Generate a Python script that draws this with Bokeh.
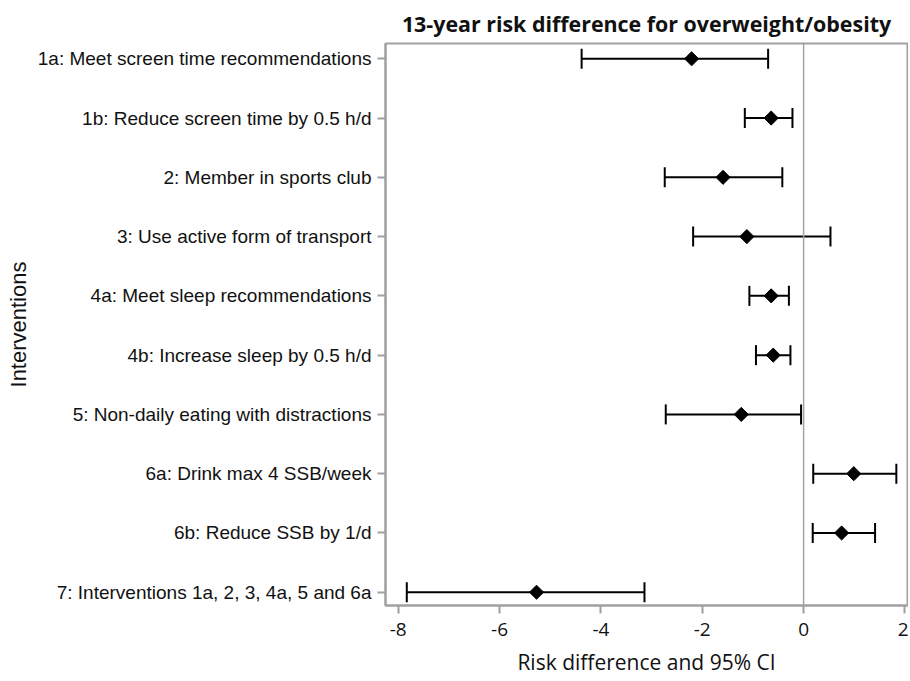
from bokeh.plotting import figure
from bokeh.models import Range1d, FixedTicker, ColumnDataSource, Whisker, TeeHead, Span
from bokeh.embed import file_html
from bokeh.resources import INLINE
import math

categories = [
    "1a: Meet screen time recommendations",
    "1b: Reduce screen time by 0.5 h/d",
    "2: Member in sports club",
    "3: Use active form of transport",
    "4a: Meet sleep recommendations",
    "4b: Increase sleep by 0.5 h/d",
    "5: Non-daily eating with distractions",
    "6a: Drink max 4 SSB/week",
    "6b: Reduce SSB by 1/d",
    "7: Interventions 1a, 2, 3, 4a, 5 and 6a",
]
estimate = [-2.21, -0.64, -1.59, -1.12, -0.64, -0.60, -1.23, 0.99, 0.75, -5.27]
lower = [-4.38, -1.16, -2.74, -2.18, -1.07, -0.94, -2.72, 0.19, 0.18, -7.83]
upper = [-0.70, -0.22, -0.42, 0.53, -0.29, -0.26, -0.05, 1.83, 1.41, -3.14]
x_ticks = [-8, -6, -4, -2, 0, 2]
x_tick_labels = ["-8", "-6", "-4", "-2", "0", "2"]

pos = list(range(len(categories)))
src = ColumnDataSource(dict(y=pos, est=estimate, lo=lower, hi=upper))

AX = "#a0a0a0"
p = figure(width=908, height=678, output_backend="svg", toolbar_location=None,
           x_range=Range1d(-8.25, 2.05), y_range=Range1d(9.224, -0.258),
           min_border_left=385, min_border_right=1, min_border_top=43, min_border_bottom=73,
           title="13-year risk difference for overweight/obesity")
p.title.align = "center"
p.title.text_font = "Open Sans"
p.title.text_font_style = "bold"
p.title.text_font_size = "21.4px"
p.title.text_color = "#111111"
p.title.standoff = 12

p.xgrid.visible = False
p.ygrid.visible = False
p.outline_line_color = AX
p.outline_line_width = 2

p.xaxis.ticker = FixedTicker(ticks=x_ticks)
p.xaxis.major_label_overrides = {t: s for t, s in zip(x_ticks, x_tick_labels)}
p.xaxis.axis_label = "Risk difference and 95% CI"
p.xaxis.axis_label_text_font = "Open Sans"
p.xaxis.axis_label_text_font_style = "normal"
p.xaxis.axis_label_text_font_size = "21px"
p.xaxis.major_label_text_font = "Open Sans"
p.xaxis.major_label_text_font_size = "19px"
p.xaxis.axis_label_standoff = 9

p.yaxis.ticker = FixedTicker(ticks=pos)
p.yaxis.major_label_overrides = {i: c for i, c in zip(pos, categories)}
p.yaxis.axis_label = "Interventions"
p.yaxis.axis_label_text_font = "Liberation Sans"
p.yaxis.axis_label_text_font_style = "normal"
p.yaxis.axis_label_text_font_size = "22px"
p.yaxis.major_label_text_font = "Liberation Sans"
p.yaxis.major_label_text_font_size = "19px"
p.yaxis.axis_label_standoff = 4

for ax in (p.xaxis, p.yaxis):
    ax.axis_line_color = AX
    ax.axis_line_width = 2
    ax.major_tick_line_color = AX
    ax.major_tick_line_width = 2
    ax.major_tick_out = 8
    ax.major_tick_in = 0
    ax.minor_tick_line_color = None
    ax.major_label_text_color = "#111111"
    ax.axis_label_text_color = "#111111"
    ax.major_label_standoff = 6
p.xaxis.major_label_standoff = 9

p.add_layout(Span(location=0, dimension="height", line_color="#a0a4a8", line_width=1.5))

w = Whisker(source=src, base="y", lower="lo", upper="hi", dimension="width",
            line_color="black", line_width=2,
            lower_head=TeeHead(size=20, line_color="black", line_width=2),
            upper_head=TeeHead(size=20, line_color="black", line_width=2))
p.add_layout(w)

p.scatter(x="est", y="y", source=src, marker="square", size=10, angle=math.pi / 4,
          fill_color="black", line_color="black")

open("out.html", "w").write(file_html(p, INLINE))
